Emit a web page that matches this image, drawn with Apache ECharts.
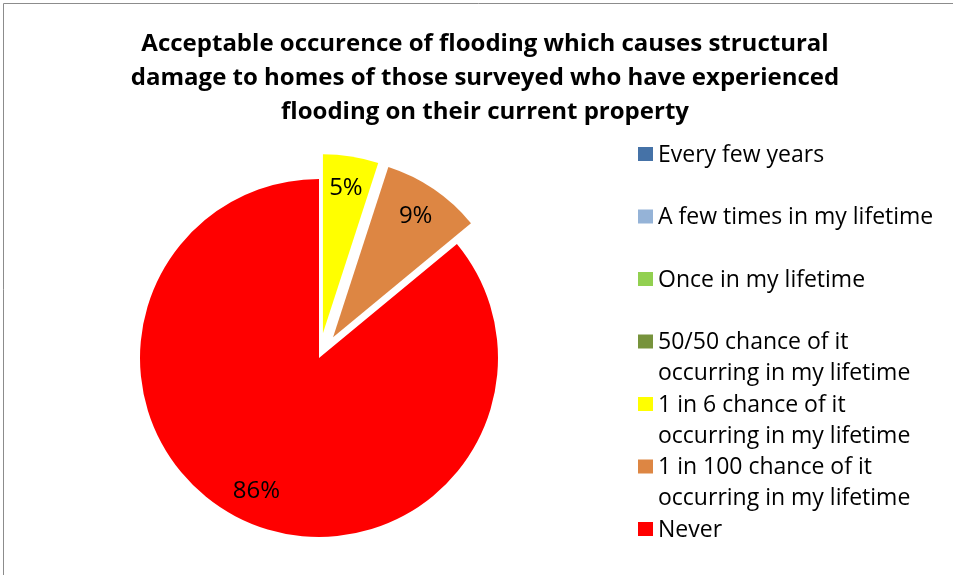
<!DOCTYPE html>
<html>
<head>
<meta charset="utf-8">
<script src="https://cdn.jsdelivr.net/npm/echarts@6/dist/echarts.min.js"></script>
<style>
    html, body { margin: 0; padding: 0; background: #fff; }
    #chart { width: 953px; height: 575px; }
</style>
</head>
<body>
<div id="chart"></div>
<script>
// 图表数据
const categories = [
    'Every few years',
    'A few times in my lifetime',
    'Once in my lifetime',
    '50/50 chance of it occurring in my lifetime',
    '1 in 6 chance of it occurring in my lifetime',
    '1 in 100 chance of it occurring in my lifetime',
    'Never'
]
const percentValues = [0, 0, 0, 0, 5, 9, 86]
const explodedSlices = [false, false, false, false, true, true, false]
const sliceColors = ['#4572A7', '#95B3D7', '#92D050', '#77933C', '#FFFF00', '#DD8643', '#FF0000']

const titleText = 'Acceptable occurence of flooding which causes structural\ndamage to homes of those surveyed who have experienced\nflooding on their current property'

const pieCenter = [319, 358]
const pieRadius = 179

const myChart = echarts.init(document.getElementById('chart'))

const pieData = categories.map((name, i) => ({
    name: name,
    value: percentValues[i],
    selected: explodedSlices[i],
    itemStyle: { color: sliceColors[i] }
}))

// 标签用的透明饼图, 让百分比落在更靠外的位置
const labelData = categories.map((name, i) => ({
    name: name,
    value: percentValues[i],
    selected: explodedSlices[i]
}))

const options = {
    animation: false,
    graphic: [{
        type: 'rect',
        shape: { x: 3.5, y: 3.5, width: 1000, height: 1000 },
        style: { fill: 'none', stroke: '#8c8c8c', lineWidth: 1 },
        silent: true
    }],
    title: {
        text: titleText,
        left: 485,
        top: 27,
        padding: 0,
        textAlign: 'center',
        textStyle: {
            fontFamily: 'Open Sans',
            fontWeight: 'bold',
            fontSize: 24,
            lineHeight: 34,
            color: '#000'
        }
    },
    legend: {
        orient: 'vertical',
        left: 638,
        top: 139.5,
        height: 470,
        padding: 0,
        itemGap: 0.5,
        itemWidth: 15,
        itemHeight: 62,
        icon: 'path://M0,7.5h15v14h-15zM0,0M0,62',
        selectedMode: false,
        itemStyle: { borderWidth: 0 },
        formatter: (name) => {
            if (name.indexOf(' occurring') > -1) {
                return name.replace(' occurring', '\noccurring')
            }
            return name + '\n'
        },
        textStyle: {
            fontFamily: 'Open Sans',
            fontSize: 23,
            lineHeight: 31,
            color: '#000'
        },
        data: categories
    },
    series: [
        {
            type: 'pie',
            center: pieCenter,
            radius: pieRadius,
            startAngle: 90,
            clockwise: true,
            selectedMode: 'multiple',
            selectedOffset: 25,
            avoidLabelOverlap: false,
            label: { show: false },
            labelLine: { show: false },
            itemStyle: { borderWidth: 0 },
            emphasis: { disabled: true },
            select: { itemStyle: { borderWidth: 0 } },
            data: pieData
        },
        {
            type: 'pie',
            center: pieCenter,
            radius: 288,
            startAngle: 90,
            clockwise: true,
            silent: true,
            selectedMode: 'multiple',
            selectedOffset: 25,
            avoidLabelOverlap: false,
            itemStyle: { color: 'rgba(0,0,0,0)', borderWidth: 0 },
            emphasis: { disabled: true },
            select: { itemStyle: { color: 'rgba(0,0,0,0)', borderWidth: 0 } },
            labelLine: { show: false },
            label: {
                show: true,
                position: 'inside',
                fontFamily: 'Open Sans',
                fontSize: 24,
                color: '#000',
                formatter: (p) => p.value > 0 ? p.value + '%' : ''
            },
            data: labelData
        }
    ]
}

myChart.setOption(options)
</script>
</body>
</html>
